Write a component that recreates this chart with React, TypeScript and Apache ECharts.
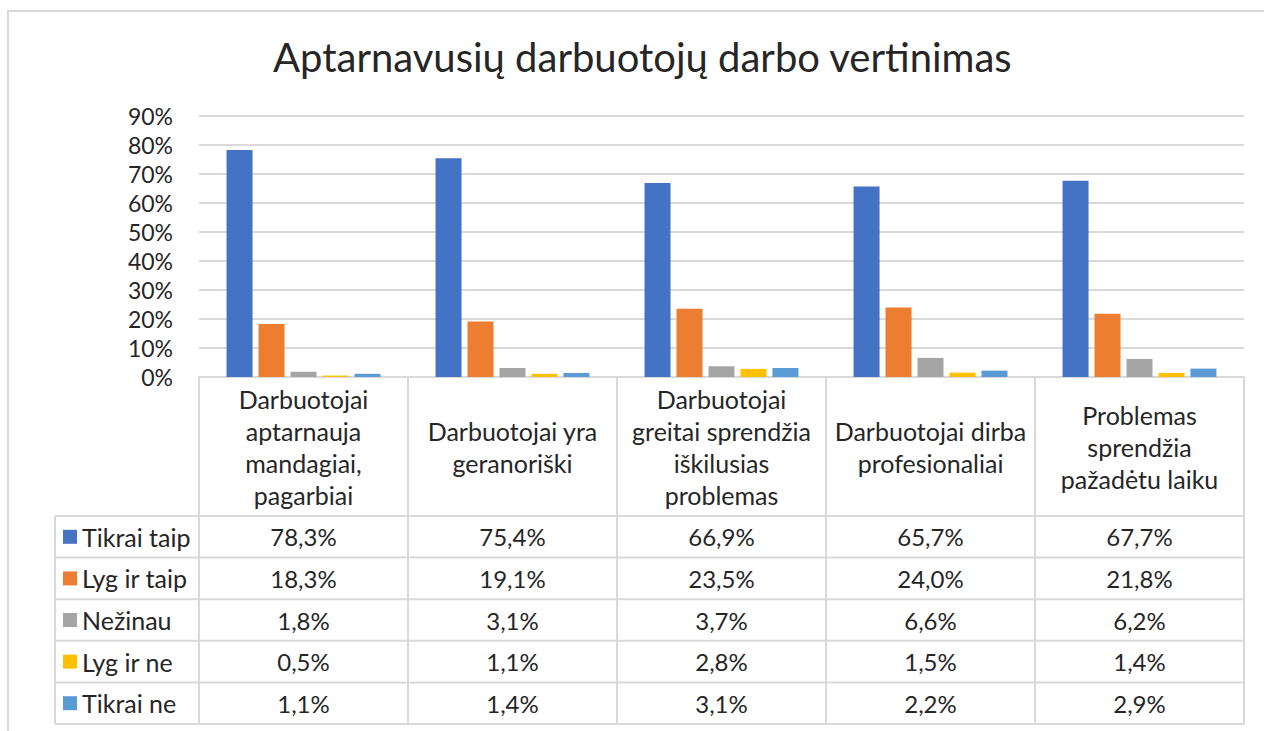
import React, { useEffect, useRef } from "react";
import * as echarts from "echarts";

const title = "Aptarnavusių darbuotojų darbo vertinimas";
const categories = [
  "Darbuotojai\naptarnauja\nmandagiai,\npagarbiai",
  "Darbuotojai yra\ngeranoriški",
  "Darbuotojai\ngreitai sprendžia\niškilusias\nproblemas",
  "Darbuotojai dirba\nprofesionaliai",
  "Problemas\nsprendžia\npažadėtu laiku",
];
const seriesNames = ["Tikrai taip", "Lyg ir taip", "Nežinau", "Lyg ir ne", "Tikrai ne"];
const tikraiTaip = [78.3, 75.4, 66.9, 65.7, 67.7];
const lygIrTaip = [18.3, 19.1, 23.5, 24.0, 21.8];
const nezinau = [1.8, 3.1, 3.7, 6.6, 6.2];
const lygIrNe = [0.5, 1.1, 2.8, 1.5, 1.4];
const tikraiNe = [1.1, 1.4, 3.1, 2.2, 2.9];
const seriesValues = [tikraiTaip, lygIrTaip, nezinau, lygIrNe, tikraiNe];
const colors = ["#4472C4", "#ED7D31", "#A5A5A5", "#FFC000", "#5B9BD5"];
const yTicks = { min: 0, max: 90, interval: 10 };

const FONT = "Lato";
const TEXT = "#262626";
const LINE = "#D9D9D9";

// layout
const W = 1264;
const H = 731;
const GRID_LEFT = 199;
const GRID_RIGHT_X = 1244;
const GRID_TOP = 116;
const PLOT_BOTTOM = 377;
const HEADER_H = 139;
const ROW_H = 41.6;
const TABLE_LEFT = 55;
const LEGEND_FS = 25;

const fmt = (v: number) => v.toFixed(1).replace(".", ",") + "%";

export default function App() {
  const ref = useRef<HTMLDivElement>(null);
  useEffect(() => {
    if (!ref.current) return;
    const chart = echarts.init(ref.current, null, { renderer: "svg" });
    const headerBottom = PLOT_BOTTOM + HEADER_H;
    const tableBottom = headerBottom + ROW_H * seriesNames.length;

    const rowAxes = seriesValues.map((vals, r) => ({
      type: "category" as const,
      data: categories,
      gridIndex: 0,
      position: "bottom" as const,
      offset: headerBottom + ROW_H * (r + 0.5) - PLOT_BOTTOM,
      axisLine: { show: false },
      axisTick: { show: false },
      splitLine: { show: false },
      axisLabel: {
        margin: 0,
        verticalAlign: "middle" as const,
        fontFamily: FONT,
        fontSize: 24,
        color: TEXT,
        interval: 0,
        formatter: (_: string, i: number) => fmt(vals[i]),
      },
    }));

    const hLines: any[] = [];
    for (let r = 0; r <= seriesNames.length; r++) {
      const y = headerBottom + ROW_H * r;
      hLines.push({
        type: "line",
        shape: { x1: TABLE_LEFT, y1: y, x2: GRID_RIGHT_X, y2: y },
        style: { stroke: LINE, lineWidth: 2 },
        silent: true,
      });
    }
    hLines.push({
      type: "line",
      shape: { x1: TABLE_LEFT, y1: headerBottom, x2: TABLE_LEFT, y2: tableBottom },
      style: { stroke: LINE, lineWidth: 2 },
      silent: true,
    });

    chart.setOption({
      animation: false,
      color: colors,
      textStyle: { fontFamily: FONT, color: TEXT },
      title: {
        text: title,
        left: 273,
        top: 37,
        padding: 0,
        textStyle: { fontFamily: FONT, fontSize: 40, fontWeight: "normal", color: TEXT },
      },
      legend: {
        orient: "vertical",
        left: 63,
        top: headerBottom + ROW_H / 2 - LEGEND_FS / 2,
        padding: 0,
        itemGap: ROW_H - LEGEND_FS,
        itemWidth: 14,
        itemHeight: 14,
        icon: "rect",
        selectedMode: false,
        textStyle: { fontFamily: FONT, fontSize: LEGEND_FS, color: TEXT, lineHeight: LEGEND_FS },
        data: seriesNames,
      },
      grid: {
        left: GRID_LEFT,
        top: GRID_TOP,
        width: GRID_RIGHT_X - GRID_LEFT,
        height: PLOT_BOTTOM - GRID_TOP,
      },
      xAxis: [
        {
          type: "category",
          data: categories,
          position: "bottom",
          axisLine: { show: true, lineStyle: { color: LINE, width: 2 } },
          axisTick: {
            show: true,
            inside: false,
            length: tableBottom - PLOT_BOTTOM,
            lineStyle: { color: LINE, width: 2 },
          },
          axisLabel: {
            interval: 0,
            margin: HEADER_H / 2,
            verticalAlign: "middle",
            fontFamily: FONT,
            fontSize: 25,
            lineHeight: 32,
            color: TEXT,
            align: "center",
          },
        },
        ...rowAxes,
      ],
      yAxis: {
        type: "value",
        min: yTicks.min,
        max: yTicks.max,
        interval: yTicks.interval,
        axisLine: { show: false },
        axisTick: { show: false },
        splitLine: { lineStyle: { color: LINE, width: 2 } },
        axisLabel: {
          margin: 26,
          fontFamily: FONT,
          fontSize: 23,
          color: TEXT,
          formatter: (v: number) => `${v}%`,
        },
      },
      series: seriesNames.map((name, s) => ({
        name,
        type: "bar",
        xAxisIndex: 0,
        data: seriesValues[s],
        barWidth: 26,
        barGap: "23%",
      })),
      graphic: [
        {
          type: "rect",
          shape: { x: 8, y: 11, width: W + 20, height: H + 20 },
          style: { fill: "none", stroke: LINE, lineWidth: 2 },
          silent: true,
          z: -1,
        },
        ...hLines,
      ],
    });
    return () => chart.dispose();
  }, []);
  return (
    <div
      ref={ref}
      style={{ position: "absolute", left: 0, top: 0, width: W, height: H, background: "#fff" }}
    />
  );
}
